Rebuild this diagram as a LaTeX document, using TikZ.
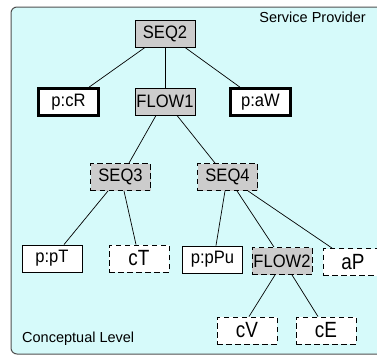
\documentclass[tikz,border=0pt]{standalone}
\usepackage{fontspec}
\setmainfont{Liberation Sans}
\newfontfamily\nodefont[FakeStretch=0.92]{Liberation Sans}
\newfontfamily\bigfont[FakeStretch=0.86]{Liberation Sans}
\definecolor{bgcyan}{RGB}{214,250,250}
\definecolor{boxgray}{RGB}{204,204,204}
\definecolor{frame}{RGB}{80,80,80}
\begin{document}
\begin{tikzpicture}[x=1pt,y=-1pt,
  box/.style={draw=black,line width=0.9pt,minimum width=60pt,minimum height=27pt,inner sep=0pt,font=\nodefont\fontsize{18}{20}\selectfont},
  bigtext/.style={font=\bigfont\fontsize{22}{24}\selectfont},
  grayfill/.style={fill=boxgray},
  whitefill/.style={fill=white},
  thickbox/.style={line width=2.6pt,minimum width=60pt,minimum height=27pt},
  dashbox/.style={dash pattern=on 5.5pt off 3.5pt},
  edge/.style={draw=black,line width=0.7pt},
  lbl/.style={font=\fontsize{14.5}{16}\selectfont,inner sep=0pt}]
\useasboundingbox (0,0) rectangle (377,356);
\begin{scope}
\clip (0,0) rectangle (377,356);
\draw[frame,fill=bgcyan,line width=1pt,rounded corners=6pt] (11,7) rectangle (400,354);
\node[box,grayfill] (seq2) at (165,33.5) {SEQ2};
\node[box,whitefill,thickbox] (pcr) at (68.5,102) {p:cR};
\node[box,grayfill] (flow1) at (165,101.5) {FLOW1};
\node[box,whitefill,thickbox] (paw) at (260.5,102) {p:aW};
\node[box,grayfill,dashbox] (seq3) at (120.5,177) {SEQ3};
\node[box,grayfill,dashbox] (seq4) at (227.5,177) {SEQ4};
\node[box,whitefill] (ppt) at (52,258.5) {p:pT};
\node[box,whitefill,dashbox,bigtext] (ct) at (139,258.5) {cT};
\node[box,whitefill] (ppu) at (212.5,259.5) {p:pPu};
\node[box,grayfill,dashbox] (flow2) at (282,261) {FLOW2};
\node[box,whitefill,dashbox,bigtext] (ap) at (353,262) {aP};
\node[box,whitefill,dashbox,bigtext] (cv) at (247,330.5) {cV};
\node[box,whitefill,dashbox,bigtext] (ce) at (326,330.5) {cE};
\node[lbl,anchor=east] (sp) at (366,17) {Service Provider};
\node[lbl,anchor=west] (cl) at (22,339) {Conceptual Level};
\draw[edge] ([xshift=-20pt]seq2.south) -- ([xshift=20.5pt]pcr.north);
\draw[edge] (seq2) -- (flow1);
\draw[edge] ([xshift=20pt]seq2.south) -- ([xshift=-20.5pt]paw.north);
\draw[edge] ([xshift=-9pt]flow1.south) -- ([xshift=8.5pt]seq3.north);
\draw[edge] ([xshift=12pt]flow1.south) -- ([xshift=-12.5pt]seq4.north);
\draw[edge] ([xshift=-12.5pt]seq3.south) -- ([xshift=12pt]ppt.north);
\draw[edge] ([xshift=3.5pt]seq3.south) -- ([xshift=-3pt]ct.north);
\draw[edge] ([xshift=-2.5pt]seq4.south) -- ([xshift=3.5pt]ppu.north);
\draw[edge] ([xshift=9.5pt]seq4.south) -- ([xshift=-8pt]flow2.north);
\draw[edge] ([xshift=20.5pt]seq4.south) -- ([xshift=-21pt]ap.north);
\draw[edge] ([xshift=-7pt]flow2.south) -- ([xshift=2pt]cv.north);
\draw[edge] ([xshift=10pt]flow2.south) -- ([xshift=-8pt]ce.north);
\end{scope}
\end{tikzpicture}
\end{document}
